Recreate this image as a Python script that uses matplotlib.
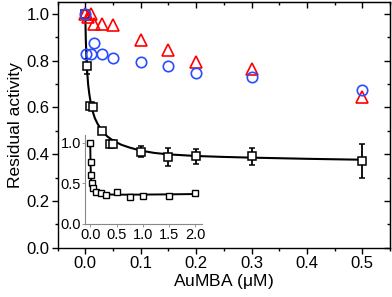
import matplotlib
matplotlib.use("Agg")
import matplotlib.pyplot as plt
from matplotlib.ticker import MultipleLocator, FormatStrFormatter

plt.rcParams['font.family'] = ['Liberation Sans', 'DejaVu Sans']
plt.rcParams['mathtext.fontset'] = 'custom'
plt.rcParams['mathtext.rm'] = 'Liberation Sans'
plt.rcParams['mathtext.it'] = 'Liberation Sans'

# ---- main panel data ----
sq_x = [0, 0.003, 0.008, 0.014, 0.03, 0.045, 0.05, 0.1, 0.15, 0.2, 0.3, 0.5]
sq_y = [1.0, 0.775, 0.605, 0.60, 0.50, 0.445, 0.445, 0.41, 0.388, 0.39, 0.39, 0.372]
sq_err = [0.01, 0.032, 0.012, 0.012, 0.01, 0.01, 0.01, 0.024, 0.038, 0.034, 0.037, 0.072]

# fitted curve
fit_x = [0, 0.0005, 0.001, 0.002, 0.003, 0.005, 0.007, 0.01, 0.013, 0.017, 0.022,
         0.03, 0.04, 0.05, 0.065, 0.08, 0.1, 0.125, 0.15, 0.2, 0.25, 0.3, 0.4, 0.5]
fit_y = [1.0, 0.93, 0.88, 0.81, 0.765, 0.70, 0.66, 0.615, 0.585, 0.555, 0.53,
         0.50, 0.475, 0.458, 0.44, 0.428, 0.415, 0.405, 0.399, 0.392, 0.388, 0.385, 0.38, 0.376]

tri_x = [0, 0.004, 0.01, 0.015, 0.03, 0.05, 0.1, 0.15, 0.2, 0.3, 0.5]
tri_y = [1.0, 0.985, 1.0, 0.955, 0.957, 0.95, 0.89, 0.845, 0.795, 0.765, 0.645]

cir_x = [0, 0.002, 0.01, 0.015, 0.03, 0.05, 0.1, 0.15, 0.2, 0.3, 0.5]
cir_y = [1.0, 0.83, 0.83, 0.875, 0.83, 0.81, 0.795, 0.775, 0.745, 0.73, 0.675]

# ---- inset data ----
in_x = [0, 0.005, 0.01, 0.025, 0.05, 0.1, 0.2, 0.3, 0.5, 0.75, 1.0, 1.5, 2.0]
in_y = [1.0, 0.77, 0.61, 0.50, 0.44, 0.40, 0.385, 0.36, 0.40, 0.33, 0.35, 0.35, 0.38]
in_fit_x = [0, 0.003, 0.006, 0.01, 0.015, 0.02, 0.03, 0.05, 0.08, 0.12, 0.2, 0.3, 0.5, 1.0, 1.5, 2.0]
in_fit_y = [1.0, 0.85, 0.74, 0.64, 0.57, 0.52, 0.48, 0.43, 0.40, 0.385, 0.372, 0.366, 0.362, 0.363, 0.366, 0.37]

fig = plt.figure(figsize=(3.92, 2.97), dpi=100)
ax = fig.add_axes([0.147, 0.166, 0.848, 0.827])

ax.plot(fit_x, fit_y, color='black', lw=1.5, zorder=2)
ax.errorbar(sq_x, sq_y, yerr=sq_err, fmt='s', ms=6, mfc='white', mec='black',
            mew=1.1, ecolor='black', elinewidth=1.3, capsize=2.5, capthick=1.3, zorder=3)
ax.plot(tri_x, tri_y, '^', ms=8, mfc='none', mec='#ff0000', mew=1.2, zorder=4)
ax.plot(cir_x, cir_y, 'o', ms=7.5, mfc='none', mec='#2a4cff', mew=1.2, zorder=4)

ax.set_xlim(-0.05, 0.55)
ax.set_ylim(0, 1.05)
ax.xaxis.set_major_locator(MultipleLocator(0.1))
ax.xaxis.set_minor_locator(MultipleLocator(0.05))
ax.yaxis.set_major_locator(MultipleLocator(0.2))
ax.yaxis.set_minor_locator(MultipleLocator(0.1))
ax.tick_params(which='both', direction='out', top=False, right=False, labelsize=12, width=1, pad=2)
ax.tick_params(which='major', length=4)
ax.tick_params(which='minor', length=2.5)
ax.xaxis.set_major_formatter(FormatStrFormatter('%.1f'))
ax.yaxis.set_major_formatter(FormatStrFormatter('%.1f'))
for s in ax.spines.values():
    s.set_linewidth(1.0)

# inward ticks on top and right
sec_x = ax.secondary_xaxis('top')
sec_x.xaxis.set_major_locator(MultipleLocator(0.1))
sec_x.xaxis.set_minor_locator(MultipleLocator(0.05))
sec_x.tick_params(which='both', direction='in', labeltop=False, width=1)
sec_x.tick_params(which='major', length=4)
sec_x.tick_params(which='minor', length=2.5)
sec_y = ax.secondary_yaxis('right')
sec_y.yaxis.set_major_locator(MultipleLocator(0.2))
sec_y.yaxis.set_minor_locator(MultipleLocator(0.1))
sec_y.tick_params(which='both', direction='in', labelright=False, width=1)
sec_y.tick_params(which='major', length=4)
sec_y.tick_params(which='minor', length=2.5)

ax.set_xlabel(r'AuMBA ($\mathregular{\mu}$M)', fontsize=12.5, labelpad=1)
ax.set_ylabel('Residual activity', fontsize=12.5, labelpad=2)

# ---- inset ----
ins = fig.add_axes([0.2168, 0.2458, 0.298, 0.30])
ins.patch.set_alpha(0)
ins.plot(in_fit_x, in_fit_y, color='black', lw=1.4)
ins.plot(in_x, in_y, 's', ms=4.5, mfc='white', mec='black', mew=1.0)
ins.set_xlim(-0.1, 2.12)
ins.set_ylim(0, 1.1)
ins.xaxis.set_major_locator(MultipleLocator(0.5))
ins.yaxis.set_major_locator(MultipleLocator(0.5))
ins.xaxis.set_major_formatter(FormatStrFormatter('%.1f'))
ins.yaxis.set_major_formatter(FormatStrFormatter('%.1f'))
ins.spines['top'].set_visible(False)
ins.spines['right'].set_visible(False)
for s in ('left', 'bottom'):
    ins.spines[s].set_color('#888888')
    ins.spines[s].set_linewidth(0.8)
ins.tick_params(labelsize=10.5, length=2, width=0.6, color='#888888', pad=1)

fig.savefig('out.png', dpi=100)
